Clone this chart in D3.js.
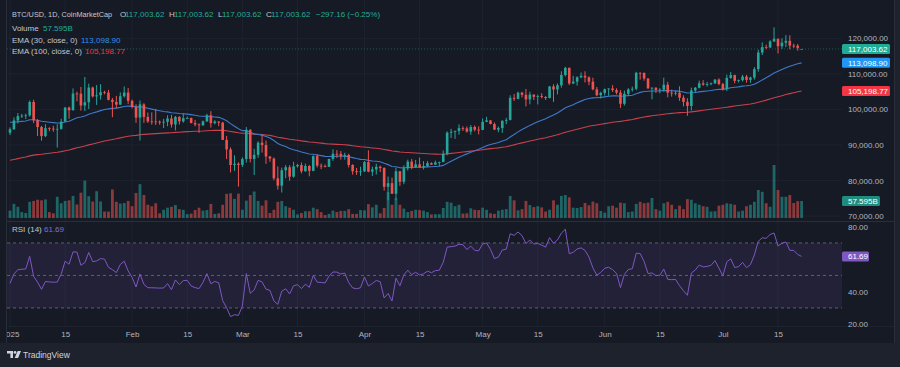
<!DOCTYPE html>
<meta charset="utf-8">
<script src="https://cdn.jsdelivr.net/npm/d3@7"></script>
<style>
  body { margin: 0; background: #1e222d; }
  text { font-family: "Liberation Sans", Arial, sans-serif; }
</style>
<div id="chart"></div>
<script>
// ---- data (daily BTC/USD, 1 Jan - 21 Jul 2025) ----
const opens = [
  93429, 94419, 96886, 98107, 98236, 98314, 102078, 96922, 95043, 92484, 94701, 94566, 94488, 94516, 96534, 100504, 99756, 104462, 104408, 101089, 102016, 106146, 103653, 103960, 104819, 104714, 102682, 102087, 101332, 103703, 104735,
  102405, 100655, 97688, 101405, 97871, 96615, 96593, 96529, 96482, 96500, 97437, 95748, 97886, 96623, 97509, 97580, 96175, 95773, 95539, 96635, 98334, 96125, 96577, 96273, 91418, 88736, 84347, 84704,
  84373, 86031, 94248, 86065, 87222, 90623, 89961, 86742, 86154, 80601, 78532, 82862, 83722, 81066, 83969, 84343, 82579, 84075, 82718, 86854, 84167, 84043, 83832, 86054, 87498, 87471, 86900, 87177, 84353, 82597, 82334,
  82548, 85169, 82485, 83102, 83843, 83504, 78214, 79235, 76271, 82573, 79626, 83404, 85287, 83684, 84542, 83669, 84033, 84895, 84450, 85063, 85174, 87518, 93441, 93699, 93943, 94720, 94646, 93755, 95044, 94285,
  94207, 96492, 96910, 95891, 94315, 94748, 96803, 97033, 103241, 102971, 104696, 104106, 102812, 104169, 103539, 103744, 103489, 103191, 106446, 105606, 106791, 109678, 111673, 107287, 107791, 109035, 109440, 108994, 107802, 105641, 103998,
  104638, 105652, 105881, 105432, 104731, 101575, 104390, 105615, 105793, 110294, 110257, 108686, 105930, 106090, 105473, 105553, 106945, 104697, 104630, 104670, 103298, 102120, 100963, 105333, 106084, 107341, 106960, 107088, 107327, 108385,
  107136, 105698, 108859, 109648, 108034, 108231, 109232, 108300, 108950, 111327, 115987, 117516, 117435, 119116, 119849, 117777, 118760, 119290, 117940, 117920, 117003.62
];
const highs = [
  94929, 97739, 98956, 98734, 98813, 102504, 102712, 97258, 95349, 95837, 94977, 95367, 95837, 97345, 100681, 100781, 105885, 104989, 106314, 109114, 107241, 106394, 106850, 107100, 105236, 105471, 103221, 103783, 104782, 106458, 106026,
  102755, 101457, 102500, 101736, 99113, 99167, 100137, 96880, 97324, 98345, 98478, 98134, 98080, 98826, 97970, 97690, 97042, 96040, 96877, 98767, 99498, 96959, 96671, 96504, 92512, 89305, 87077, 85120,
  86523, 95043, 94429, 88912, 90998, 92804, 91225, 86847, 86471, 83955, 83617, 84358, 84301, 85264, 84672, 85051, 84725, 84300, 87021, 87443, 84782, 84513, 86094, 88758, 88543, 88292, 87786, 87516, 84567, 83505, 83870,
  85487, 88500, 83909, 84720, 84207, 83704, 81119, 80823, 83588, 82700, 84247, 85856, 86069, 85785, 86429, 85428, 85470, 85098, 85597, 85306, 88460, 93817, 94535, 94016, 95768, 95251, 95199, 95598, 95485, 95229,
  97437, 97896, 96945, 96318, 95193, 96889, 97625, 103969, 104297, 104984, 104938, 105747, 104976, 104192, 104150, 104550, 103717, 106597, 107068, 107307, 110724, 111970, 111798, 109454, 109313, 110376, 110718, 109298, 108910, 106308, 104972,
  105868, 105884, 106813, 105933, 105426, 105300, 105960, 106390, 110561, 110390, 110390, 108780, 106183, 106208, 105968, 108915, 107750, 105541, 105220, 106500, 103980, 103140, 106100, 106290, 108090, 108220, 107750, 107560, 108490, 108750,
  107470, 109770, 110500, 109750, 108410, 109700, 109700, 109200, 111900, 116800, 118860, 118200, 119460, 123091, 119950, 120000, 120900, 120850, 118500, 118400, 117003.62
];
const lows = [
  92788, 94201, 96034, 97562, 97291, 97929, 96132, 92525, 91220, 92207, 93840, 93712, 89256, 94303, 96500, 97356, 99700, 102278, 99651, 99550, 100121, 103339, 101262, 102750, 104242, 102541, 97795, 100278, 101328, 103318, 101543,
  100297, 96216, 91231, 96216, 96174, 95707, 95620, 95688, 94746, 95257, 94876, 94088, 95745, 96253, 97254, 96055, 95227, 93407, 95302, 96464, 94871, 95788, 95270, 91371, 86009, 82257, 82716, 78258,
  83794, 85040, 85081, 81529, 86379, 87853, 84667, 85248, 80052, 77420, 76606, 80635, 79931, 80797, 83640, 82017, 82492, 81179, 82569, 83647, 83171, 83674, 83794, 85541, 86346, 85861, 85837, 83647, 81634, 81573, 81294,
  82433, 82320, 81282, 81659, 82377, 77153, 74436, 76198, 74589, 78456, 78936, 82769, 83153, 83600, 83598, 83100, 83736, 84367, 84353, 83976, 85144, 87085, 91962, 91696, 92898, 93927, 93470, 92860, 93796, 92953,
  94153, 96397, 95786, 94173, 93578, 93408, 95830, 96913, 102343, 102818, 103349, 100818, 101430, 102638, 101383, 103101, 102659, 103142, 102112, 104206, 106127, 109285, 106841, 107100, 106683, 108735, 107564, 106812, 105374, 103685, 103070,
  103909, 103826, 104920, 104223, 100426, 101095, 103951, 104988, 105400, 108368, 108081, 105785, 102822, 104629, 104524, 104993, 103400, 103600, 103946, 102400, 100842, 98200, 99680, 104660, 105900, 106660, 106410, 106820, 107150, 106760,
  105320, 105160, 108620, 107340, 107560, 107840, 107500, 107470, 108380, 110580, 115300, 116930, 117280, 118930, 115740, 117010, 117500, 116900, 117250, 116500, 117003.62
];
const closes = [
  94419, 96886, 98107, 98236, 98314, 102078, 96922, 95043, 92484, 94701, 94566, 94488, 94516, 96534, 100504, 99756, 104462, 104408, 101089, 102016, 106146, 103653, 103960, 104819, 104714, 102682, 102087, 101332, 103703, 104735, 102405,
  100655, 97688, 101405, 97871, 96615, 96593, 96529, 96482, 96500, 97437, 95748, 97886, 96623, 97509, 97580, 96175, 95773, 95539, 96635, 98334, 96125, 96577, 96273, 91418, 88736, 84347, 84704, 84373,
  86031, 94248, 86065, 87222, 90623, 89961, 86742, 86154, 80601, 78532, 82862, 83722, 81066, 83969, 84343, 82579, 84075, 82718, 86854, 84167, 84043, 83832, 86054, 87498, 87471, 86900, 87177, 84353, 82597, 82334, 82548,
  85169, 82485, 83102, 83843, 83504, 78214, 79235, 76271, 82573, 79626, 83404, 85287, 83684, 84542, 83669, 84033, 84895, 84450, 85063, 85174, 87518, 93441, 93699, 93943, 94720, 94646, 93755, 95044, 94285, 94207,
  96492, 96910, 95891, 94315, 94748, 96803, 97033, 103241, 102971, 104696, 104106, 102812, 104169, 103539, 103744, 103489, 103191, 106446, 105606, 106791, 109678, 111673, 107287, 107791, 109035, 109440, 108994, 107802, 105641, 103998, 104638,
  105652, 105881, 105432, 104731, 101575, 104390, 105615, 105793, 110294, 110257, 108686, 105930, 106090, 105473, 105553, 106945, 104697, 104630, 104670, 103298, 102120, 100963, 105333, 106084, 107341, 106960, 107088, 107327, 108385, 107136,
  105698, 108859, 109648, 108034, 108231, 109232, 108300, 108950, 111327, 115987, 117516, 117435, 119116, 119849, 117777, 118760, 119290, 117940, 117920, 117300.78, 117003.62
];
// volume, billions USD
const volumes = [
  25, 48, 38, 20, 17, 55, 58, 62, 60, 63, 20, 16, 72, 50, 58, 60, 75, 46, 86, 127, 74, 56, 91, 56, 22, 22, 97, 55, 49, 51, 58,
  40, 85, 115, 78, 45, 40, 50, 16, 28, 35, 38, 44, 30, 28, 13, 15, 27, 35, 25, 27, 48, 14, 16, 45, 82, 84, 65, 83,
  28, 59, 78, 90, 58, 42, 60, 17, 28, 55, 58, 40, 35, 28, 12, 17, 23, 23, 35, 30, 20, 10, 14, 25, 20, 24, 24, 30, 14, 14, 27,
  26, 47, 36, 45, 16, 34, 88, 45, 67, 45, 32, 20, 24, 28, 27, 25, 20, 12, 13, 13, 34, 55, 52, 40, 45, 15, 16, 33, 28, 27,
  35, 28, 16, 14, 25, 28, 30, 75, 60, 26, 30, 58, 44, 37, 40, 36, 22, 28, 60, 45, 75, 78, 70, 35, 34, 37, 51, 43, 56, 50, 24,
  18, 40, 42, 35, 52, 50, 20, 22, 48, 55, 50, 52, 68, 30, 25, 50, 55, 45, 30, 42, 30, 64, 62, 50, 45, 40, 38, 22, 23, 42,
  45, 50, 48, 45, 22, 25, 40, 45, 55, 95, 89, 50, 38, 180, 95, 72, 72, 78, 51, 57, 57.595
];
// closes 30 Nov - 31 Dec 2024, only used to warm up the RSI
const warmupCloses = [96449, 97185, 95861, 95944, 98623, 96945, 99740, 99832, 101109, 97275, 96593, 101125, 100043, 101459, 101373, 104298, 106030, 106140, 100041, 97490, 97756, 97224, 95104, 94686, 98676, 99299, 95795, 94164, 95163, 93530, 92643, 93429];
const ema30Start = 96500;   // EMA values on 31 Dec
const ema100Start = 85500;

const priceTicks = [70000, 80000, 90000, 100000, 110000, 120000];
const rsiTicks = [20, 40, 80];
const rsiLevels = [70, 50, 30];
const xTickDates = ["2025-01-01", "2025-01-15", "2025-02-01", "2025-02-15", "2025-03-01", "2025-03-15", "2025-04-01", "2025-04-15", "2025-05-01", "2025-05-15", "2025-06-01", "2025-06-15", "2025-07-01", "2025-07-15"];
const xTickLabels = ["2025", "15", "Feb", "15", "Mar", "15", "Apr", "15", "May", "15", "Jun", "15", "Jul", "15"];

const lastPrice = "117,003.62", lastChange = "\u2212297.16 (\u22120.25%)";
const lastVolume = "57.595B", lastEma30 = "113,098.90", lastEma100 = "105,198.77", lastRsi = "61.69";

// ---- colours ----
const up = "#26a69a", down = "#ef5350", txt = "#b2b5be", grid = "#1e2230";

const svg = d3.select("#chart").append("svg")
  .attr("width", 900).attr("height", 367);

svg.append("rect").attr("width", 900).attr("height", 367).attr("fill", "#1e222d");
svg.append("rect").attr("width", 894).attr("height", 343).attr("fill", "#161a25");

const plotL = 7, plotR = 842;
const mainTop = 0, mainBot = 221, rsiTop = 222, rsiBot = 326;

const x = d3.scaleUtc()
  .domain([new Date(Date.UTC(2025, 0, 1)), new Date(Date.UTC(2025, 6, 15))])
  .range([10, 778]);
const y = d3.scaleLinear().domain([70000, 120000]).range([216, 38.3]);
const yVol = d3.scaleLinear().domain([0, 180]).range([218, 165]);
const yRsi = d3.scaleLinear().domain([20, 80]).range([324.2, 226.7]);

const dates = closes.map((c, i) => new Date(Date.UTC(2025, 0, 1 + i)));
const bars = dates.map((d, i) => ({date: d, o: opens[i], h: highs[i], l: lows[i], c: closes[i], v: volumes[i]}));

// indicators
function ema(values, period, start) {
  const k = 2 / (period + 1);
  let prev = start;
  return values.map(v => (prev = prev + k * (v - prev)));
}
function rsi(values, period) {
  let ag = 0, al = 0;
  const out = [];
  for (let i = 1; i < values.length; i++) {
    const ch = values[i] - values[i - 1];
    const g = Math.max(ch, 0), l = Math.max(-ch, 0);
    if (i <= period) { ag += g / period; al += l / period; }
    else { ag = (ag * (period - 1) + g) / period; al = (al * (period - 1) + l) / period; }
    out.push(100 - 100 / (1 + ag / al));
  }
  return out;
}
const ema30 = ema(closes, 30, ema30Start);
const ema100 = ema(closes, 100, ema100Start);
const rsiAll = rsi(warmupCloses.concat(closes), 14).slice(warmupCloses.length - 1);

// clips
const defs = svg.append("defs");
defs.append("clipPath").attr("id", "clipMain").append("rect")
  .attr("x", plotL).attr("y", mainTop).attr("width", plotR - plotL).attr("height", mainBot - mainTop);
defs.append("clipPath").attr("id", "clipRsi").append("rect")
  .attr("x", plotL).attr("y", rsiTop).attr("width", plotR - plotL).attr("height", rsiBot - rsiTop);
defs.append("clipPath").attr("id", "clipAxis").append("rect")
  .attr("x", plotL).attr("y", rsiBot).attr("width", 894 - plotL).attr("height", 343 - rsiBot);

// grid
const gridG = svg.append("g");
gridG.selectAll(".vg").data(xTickDates).join("line")
  .attr("x1", d => x(new Date(d))).attr("x2", d => x(new Date(d)))
  .attr("y1", 0).attr("y2", rsiBot)
  .attr("stroke", grid).attr("stroke-width", 1);
gridG.selectAll(".hg").data(priceTicks).join("line")
  .attr("x1", plotL).attr("x2", plotR)
  .attr("y1", d => y(d)).attr("y2", d => y(d))
  .attr("stroke", grid);

// volume
const main = svg.append("g").attr("clip-path", "url(#clipMain)");
main.selectAll(".vol").data(bars).join("rect")
  .attr("x", d => x(d.date) - 1.4).attr("width", 2.8)
  .attr("y", d => yVol(d.v)).attr("height", d => yVol(0) - yVol(d.v))
  .attr("fill", d => d.c >= d.o ? up : down).attr("opacity", 0.55);

// EMAs
const lineFor = vals => d3.line().x((d, i) => x(dates[i])).y(d => y(d))(vals);
main.append("path").attr("d", lineFor(ema100)).attr("fill", "none").attr("stroke", "#c8414c").attr("stroke-width", 1.1);
main.append("path").attr("d", lineFor(ema30)).attr("fill", "none").attr("stroke", "#3f79c8").attr("stroke-width", 1.1);

// last price line
main.append("line").attr("x1", plotL).attr("x2", plotR)
  .attr("y1", y(closes[closes.length - 1])).attr("y2", y(closes[closes.length - 1]))
  .attr("stroke", up).attr("stroke-opacity", 0.45).attr("stroke-dasharray", "1,2");

// candles
const candle = main.selectAll(".candle").data(bars).join("g")
  .attr("fill", d => d.c >= d.o ? up : down).attr("stroke", d => d.c >= d.o ? up : down);
candle.append("line")
  .attr("x1", d => x(d.date)).attr("x2", d => x(d.date))
  .attr("y1", d => y(d.h)).attr("y2", d => y(d.l)).attr("stroke-width", 1);
candle.append("rect")
  .attr("x", d => x(d.date) - 1.3).attr("width", 2.6)
  .attr("y", d => y(Math.max(d.o, d.c)))
  .attr("height", d => Math.max(0.8, Math.abs(y(d.o) - y(d.c))))
  .attr("stroke", "none");

// RSI pane
const rsiG = svg.append("g").attr("clip-path", "url(#clipRsi)");
rsiG.append("rect").attr("x", plotL).attr("width", plotR - plotL)
  .attr("y", yRsi(70)).attr("height", yRsi(30) - yRsi(70))
  .attr("fill", "#7e57c2").attr("opacity", 0.12);
rsiG.selectAll(".lvl").data(rsiLevels).join("line")
  .attr("x1", plotL).attr("x2", plotR)
  .attr("y1", d => yRsi(d)).attr("y2", d => yRsi(d))
  .attr("stroke", "#787b86").attr("stroke-opacity", 0.7).attr("stroke-dasharray", "3,3");
rsiG.append("path")
  .attr("d", d3.line().x((d, i) => x(dates[i])).y(d => yRsi(d))(rsiAll))
  .attr("fill", "none").attr("stroke", "#7e57c2").attr("stroke-width", 1);

// borders / separators
svg.append("line").attr("x1", plotL).attr("x2", 894).attr("y1", mainBot + 0.5).attr("y2", mainBot + 0.5).attr("stroke", "#2a2e39");
svg.append("line").attr("x1", plotL).attr("x2", 894).attr("y1", rsiBot + 0.5).attr("y2", rsiBot + 0.5).attr("stroke", "#1e222d");
svg.append("line").attr("x1", plotL - 0.5).attr("x2", plotL - 0.5).attr("y1", 0).attr("y2", 343).attr("stroke", "#2a2e39");
svg.append("line").attr("x1", 894.5).attr("x2", 894.5).attr("y1", 0).attr("y2", 343).attr("stroke", "#2a2e39");

// price axis
const priceAxis = svg.append("g").attr("transform", "translate(848,0)")
  .call(d3.axisRight(y).tickValues(priceTicks).tickSize(0).tickPadding(0).tickFormat(d3.format(",.2f")));
const rsiAxis = svg.append("g").attr("transform", "translate(848,0)")
  .call(d3.axisRight(yRsi).tickValues(rsiTicks).tickSize(0).tickPadding(0).tickFormat(d3.format(".2f")));
[priceAxis, rsiAxis].forEach(g => {
  g.select(".domain").remove();
  g.selectAll("text").attr("fill", txt).attr("font-size", 8).attr("font-family", "Liberation Sans, Arial, sans-serif");
});

// time axis
const timeAxis = svg.append("g").attr("clip-path", "url(#clipAxis)")
  .append("g").attr("transform", `translate(0,${rsiBot + 5})`)
  .call(d3.axisBottom(x).tickValues(xTickDates.map(d => new Date(d))).tickSize(0).tickPadding(0)
    .tickFormat((d, i) => xTickLabels[i]));
timeAxis.select(".domain").remove();
timeAxis.selectAll("text").attr("fill", txt).attr("font-size", 8).attr("font-family", "Liberation Sans, Arial, sans-serif");

// value labels on the price scale
function scaleLabel(yPos, w, fill, label) {
  svg.append("rect").attr("x", 842).attr("y", yPos - 5).attr("width", w).attr("height", 10)
    .attr("rx", 1.5).attr("fill", fill);
  svg.append("text").attr("x", 848).attr("y", yPos).attr("dy", "0.35em")
    .attr("font-size", 8).attr("fill", "#ffffff").text(label);
}
scaleLabel(y(closes[closes.length - 1]), 48, "#22ab94", lastPrice);
scaleLabel(y(ema30[ema30.length - 1]), 48, "#2196f3", lastEma30);
scaleLabel(y(ema100[ema100.length - 1]), 48, "#f23645", lastEma100);
scaleLabel(yVol(volumes[volumes.length - 1]), 38, "#1e8c7e", lastVolume);
scaleLabel(yRsi(rsiAll[rsiAll.length - 1]), 27, "#7e57c2", lastRsi);

// legends
function legend(yPos, parts, size) {
  const t = svg.append("text").attr("y", yPos).attr("font-size", size || 8);
  parts.forEach(p => t.append("tspan").attr("x", p[0]).attr("fill", p[2]).text(p[1]));
}
const lab = "#c3c6ce", green = "#22ab94";
legend(17, [[12, "BTC/USD, 1D, CoinMarketCap", lab]], 7.3);
legend(17, [[120, "O", lab], [125, lastPrice, green],
  [169, "H", lab], [174, lastPrice, green], [218, "L", lab], [222, lastPrice, green],
  [266, "C", lab], [271, lastPrice, green], [316, lastChange, green]]);
legend(31, [[12, "Volume", lab], [43, lastVolume, green]]);
legend(43, [[12, "EMA (30, close, 0)", lab], [81, lastEma30, "#2f8ff0"]]);
legend(54, [[12, "EMA (100, close, 0)", lab], [85, lastEma100, "#f23645"]]);
legend(232, [[12, "RSI (14)", lab], [44, lastRsi, "#8e6bd0"]]);

// TradingView mark
const logo = svg.append("g").attr("fill", "#d1d4dc");
logo.append("path").attr("d", "M7 351h6v7h-2.6v-4.4H7z");
logo.append("circle").attr("cx", 15).attr("cy", 352.4).attr("r", 1.4);
logo.append("path").attr("d", "M17.6 351h3.4l-2.9 7h-3.4z");
svg.append("text").attr("x", 23).attr("y", 357.5).attr("font-size", 8.5)
  .attr("fill", "#d1d4dc").text("TradingView");
</script>
